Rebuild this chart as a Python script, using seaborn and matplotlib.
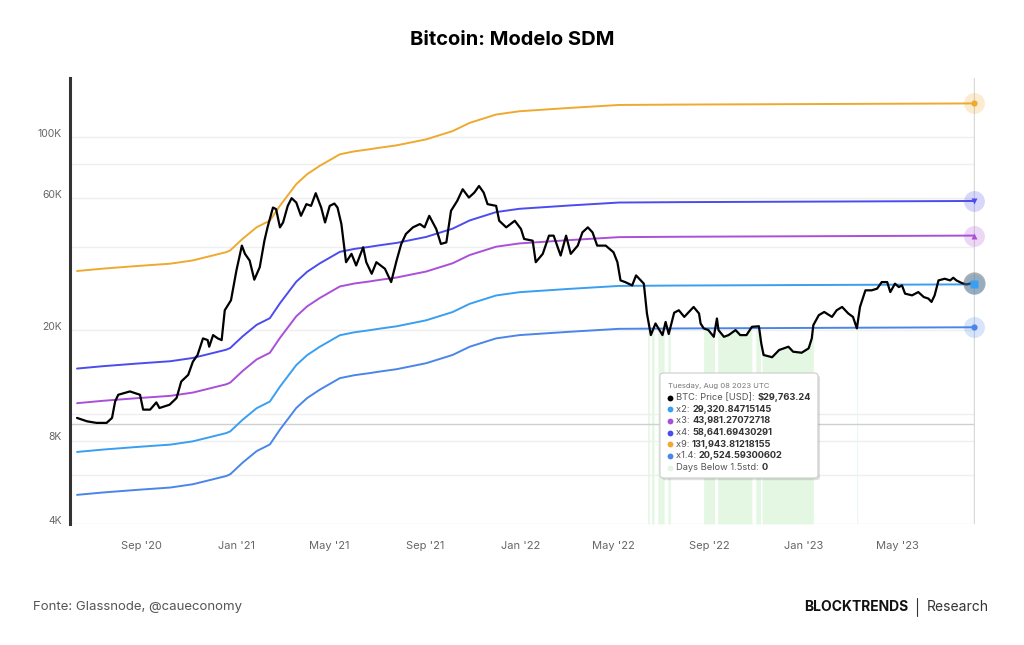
import numpy as np
import pandas as pd
import matplotlib
matplotlib.use('Agg')
import matplotlib.pyplot as plt
import matplotlib.dates as mdates
from matplotlib.ticker import FixedLocator, FixedFormatter, NullLocator
from matplotlib.transforms import ScaledTranslation
from matplotlib.patches import FancyBboxPatch
from matplotlib.lines import Line2D
from matplotlib.text import Annotation
import seaborn as sns

# SDM base curve (the x1.4 line divided by 1.4)
base_dates = ['2020-06-10', '2020-07-14', '2020-08-26', '2020-10-08', '2020-11-06', '2020-12-02',
              '2020-12-19', '2020-12-24', '2021-01-09', '2021-01-27', '2021-02-13', '2021-02-26',
              '2021-03-19', '2021-04-02', '2021-04-18', '2021-05-14', '2021-06-02', '2021-06-21',
              '2021-07-04', '2021-07-26', '2021-09-02', '2021-10-06', '2021-10-28', '2021-12-01',
              '2021-12-31', '2022-03-05', '2022-05-08', '2022-07-24', '2023-08-08']
base_values = [3640, 3714, 3794, 3869, 3976, 4144,
               4259, 4319, 4758, 5236, 5534, 6265,
               7496, 8141, 8719, 9604, 9846, 10011,
               10142, 10345, 10873, 11645, 12471, 13366,
               13736, 14118, 14471, 14518, 14660]

series_names = ['x2', 'x3', 'x4', 'x9', 'x1.4']
multipliers = [2, 3, 4, 9, 1.4]
series_colors = ['#3a9ff0', '#aa4fd8', '#4c4cee', '#eeaa2e', '#4a86e8']

# BTC price
price_dates = [
    '2020-06-10', '2020-06-23', '2020-07-05', '2020-07-18', '2020-07-25', '2020-07-29', '2020-08-02',
    '2020-08-17', '2020-08-30', '2020-09-03', '2020-09-12', '2020-09-20', '2020-09-24', '2020-10-07',
    '2020-10-16', '2020-10-22', '2020-10-31', '2020-11-06', '2020-11-12', '2020-11-19', '2020-11-25',
    '2020-11-27', '2020-12-02', '2020-12-08', '2020-12-13', '2020-12-17', '2020-12-25', '2021-01-01',
    '2021-01-08', '2021-01-12', '2021-01-18', '2021-01-24', '2021-01-31', '2021-02-06', '2021-02-10',
    '2021-02-17', '2021-02-21', '2021-02-26', '2021-03-02', '2021-03-08', '2021-03-13', '2021-03-19',
    '2021-03-25', '2021-04-01', '2021-04-07', '2021-04-13', '2021-04-20', '2021-04-25', '2021-05-01',
    '2021-05-07', '2021-05-11', '2021-05-16', '2021-05-22', '2021-05-29', '2021-06-04', '2021-06-13',
    '2021-06-17', '2021-06-24', '2021-06-30', '2021-07-11', '2021-07-19', '2021-07-26', '2021-08-01',
    '2021-08-07', '2021-08-16', '2021-08-25', '2021-08-31', '2021-09-06', '2021-09-15', '2021-09-21',
    '2021-09-28', '2021-10-04', '2021-10-12', '2021-10-19', '2021-10-27', '2021-11-03', '2021-11-09',
    '2021-11-15', '2021-11-20', '2021-12-01', '2021-12-05', '2021-12-14', '2021-12-25', '2022-01-02',
    '2022-01-06', '2022-01-17', '2022-01-21', '2022-01-30', '2022-02-07', '2022-02-13', '2022-02-22',
    '2022-03-01', '2022-03-07', '2022-03-16', '2022-03-22', '2022-03-29', '2022-04-04', '2022-04-10',
    '2022-04-21', '2022-05-01', '2022-05-06', '2022-05-10', '2022-05-16', '2022-05-25', '2022-05-30',
    '2022-06-05', '2022-06-09', '2022-06-13', '2022-06-18', '2022-06-24', '2022-07-03', '2022-07-07',
    '2022-07-11', '2022-07-18', '2022-07-24', '2022-07-31', '2022-08-06', '2022-08-12', '2022-08-19',
    '2022-08-21', '2022-08-25', '2022-08-31', '2022-09-07', '2022-09-11', '2022-09-13', '2022-09-20',
    '2022-09-26', '2022-10-05', '2022-10-11', '2022-10-19', '2022-10-26', '2022-11-04', '2022-11-07',
    '2022-11-10', '2022-11-21', '2022-11-30', '2022-12-12', '2022-12-18', '2022-12-29', '2023-01-07',
    '2023-01-11', '2023-01-13', '2023-01-20', '2023-01-27', '2023-02-06', '2023-02-12', '2023-02-19',
    '2023-02-27', '2023-03-05', '2023-03-10', '2023-03-14', '2023-03-21', '2023-03-29', '2023-04-05',
    '2023-04-11', '2023-04-18', '2023-04-22', '2023-04-28', '2023-05-03', '2023-05-07', '2023-05-11',
    '2023-05-20', '2023-05-28', '2023-06-04', '2023-06-10', '2023-06-14', '2023-06-18', '2023-06-23',
    '2023-07-01', '2023-07-08', '2023-07-12', '2023-07-16', '2023-07-23', '2023-07-29', '2023-08-08']
price_values = [
    9660, 9390, 9270, 9270, 9660, 11080, 11710,
    12040, 11710, 10350, 10350, 10990, 10490, 10780,
    11400, 13070, 13820, 15420, 16300, 18710, 18450,
    17460, 19230, 18710, 18450, 23640, 25690, 32910,
    40460, 37780, 35740, 30480, 33820, 42150, 47090,
    55530, 54800, 47090, 49050, 56310, 60010, 57870,
    51840, 57110, 56310, 62550, 55530, 49050, 56310,
    57390, 55530, 48400, 35250, 37780, 34300, 39900,
    35250, 32020, 35250, 33380, 29880, 35740, 41030,
    44570, 47090, 48400, 47090, 51840, 46450, 41030,
    41570, 54040, 58690, 64650, 60330, 62880, 66430,
    62880, 57110, 56310, 49740, 47090, 49740, 46450,
    42770, 42150, 35250, 37780, 43950, 43950, 37250,
    43950, 37780, 40460, 45170, 47090, 45170, 40460,
    40460, 38280, 35250, 30300, 29880, 29070, 31580,
    30300, 29490, 23010, 19230, 21180, 19230, 21460,
    19400, 23160, 23640, 22370, 23310, 24300, 23010,
    21180, 20330, 20050, 18960, 22080, 20050, 18960,
    19230, 20050, 19230, 19230, 20600, 20700, 17960,
    16300, 16000, 16990, 17460, 16750, 16610, 17230,
    18710, 20890, 22690, 23310, 22370, 23640, 24300,
    23010, 22370, 20330, 24300, 27900, 27900, 28290,
    29880, 29880, 27500, 29490, 28670, 29070, 27140,
    26760, 27500, 26390, 26050, 25330, 26760, 30300,
    30720, 30300, 30980, 30300, 29630, 29310, 29763.24]

# days below 1.5std (green columns)
green_start = ['2022-06-14', '2022-06-19', '2022-06-27', '2022-07-10', '2022-08-25', '2022-09-12',
               '2022-10-31', '2022-11-08', '2023-03-10']
green_end = ['2022-06-16', '2022-06-22', '2022-07-05', '2022-07-13', '2022-09-08', '2022-10-26',
             '2022-11-06', '2023-01-13', '2023-03-11']

y_ticks = [4000, 6000, 8000, 10000, 20000, 40000, 60000, 80000, 100000]
y_labels = ['4K', '', '8K', '', '20K', '', '60K', '', '100K']
crosshair_y = 9150

tt_date = 'Tuesday, Aug 08 2023 UTC'
tt_labels = ['BTC: Price [USD]: ', 'x2: ', 'x3: ', 'x4: ', 'x9: ', 'x1.4: ', 'Days Below 1.5std: ']
tt_values = ['$29,763.24', '29,320.84715145', '43,981.27072718', '58,641.69430291',
             '131,943.81218155', '20,524.59300602', '0']
tt_colors = ['#000000'] + series_colors + ['#e2f6e2']

sns.set_style('white')
plt.rcParams['font.family'] = ['Inter', 'DejaVu Sans']

fig = plt.figure(figsize=(10.24, 6.45), dpi=100)
ax = fig.add_axes([0.0684, 0.1876, 0.8838, 0.6915])

base_df = pd.DataFrame({'date': pd.to_datetime(base_dates), 'base': base_values})
price_df = pd.DataFrame({'date': pd.to_datetime(price_dates), 'price': price_values})

for name, m, col in zip(series_names, multipliers, series_colors):
    sns.lineplot(x=base_df['date'], y=base_df['base'] * m, color=col, lw=1.4,
                 estimator=None, ax=ax, zorder=3)

sns.lineplot(data=price_df, x='date', y='price', color='black', lw=1.6,
             estimator=None, ax=ax, zorder=4)

ax.set_yscale('log')
y_min, y_max = 4000, 163000

# green columns up to the price line
pnum = mdates.date2num(price_df['date'])
logp = np.log(price_df['price'].values)
for s, e in zip(green_start, green_end):
    xs = np.linspace(mdates.date2num(pd.Timestamp(s)), mdates.date2num(pd.Timestamp(e)), 15)
    top = np.exp(np.interp(xs, pnum, logp))
    ax.fill_between(mdates.num2date(xs), y_min, top, color='#e3f7e3', lw=0, zorder=1)

# crosshairs
ax.axhline(crosshair_y, color='#cfcfcf', lw=1, zorder=2)
end_date = pd.Timestamp('2023-08-08')
ax.axvline(end_date, color='#d9d9d9', lw=1, zorder=2)

# hover markers at the last date
last_base = base_df['base'].iloc[-1]
marker_syms = ['s', '^', 'v', 'o', 'o']
ax.plot([end_date], [price_df['price'].iloc[-1]], 'o', ms=16, color='#555555', alpha=0.45,
        mec='none', clip_on=False, zorder=5)
for m, col, sym in zip(multipliers, series_colors, marker_syms):
    ax.plot([end_date], [last_base * m], 'o', ms=15, color=col, alpha=0.22, mec='none',
            clip_on=False, zorder=5)
    ax.plot([end_date], [last_base * m], sym, ms=4.5 if sym != 's' else 6, color=col,
            mec='none', clip_on=False, zorder=6)

ax.set_ylim(y_min, y_max)
ax.set_xlim(pd.Timestamp('2020-06-01'), pd.Timestamp('2023-08-09'))

ax.yaxis.set_major_locator(FixedLocator(y_ticks))
ax.yaxis.set_major_formatter(FixedFormatter(y_labels))
ax.yaxis.set_minor_locator(NullLocator())
ax.yaxis.grid(True, color='#efefef', lw=1, zorder=0)
ax.xaxis.grid(False)

ax.xaxis.set_major_locator(mdates.MonthLocator(bymonth=[1, 5, 9]))
ax.xaxis.set_major_formatter(mdates.DateFormatter("%b '%y"))

ax.set_xlabel('')
ax.set_ylabel('')
for side in ['top', 'right', 'bottom']:
    ax.spines[side].set_visible(False)
ax.spines['left'].set_color('#333333')
ax.spines['left'].set_linewidth(2.2)

ax.tick_params(axis='y', length=0, pad=6, labelsize=7.5, labelcolor='#666666')
ax.tick_params(axis='x', length=4, width=0.8, color='#cccccc', pad=8,
               labelsize=8, labelcolor='#666666')
for lab in ax.get_yticklabels():
    lab.set_transform(lab.get_transform() + ScaledTranslation(0, 3 / 72, fig.dpi_scale_trans))

# tooltip
shadow = FancyBboxPatch((0.6465, 0.2555), 0.1543, 0.1628, boxstyle='round,pad=0,rounding_size=0.004',
                        transform=fig.transFigure, fc='#000000', ec='none', alpha=0.12)
box = FancyBboxPatch((0.6445, 0.2589), 0.1543, 0.1628, boxstyle='round,pad=0,rounding_size=0.004',
                     transform=fig.transFigure, fc='white', ec='#cccccc', lw=0.8)
fig.add_artist(shadow)
fig.add_artist(box)

fig.text(0.6525, 1 - 386 / 645, tt_date, fontsize=5.5, color='#777777', va='center')
for i, (lab, val, col) in enumerate(zip(tt_labels, tt_values, tt_colors)):
    yy = 1 - (397.5 + 11.7 * i) / 645
    fig.add_artist(Line2D([670 / 1024], [yy], marker='o', ms=4.2, color=col, mec='none',
                          transform=fig.transFigure))
    t = fig.text(676 / 1024, yy, lab, fontsize=6.7, color='#555555', va='center')
    fig.add_artist(Annotation(val, xy=(1, 0), xycoords=t, va='bottom', ha='left',
                              fontsize=6.7, fontweight='bold', color='#333333'))

# title and footer
fig.text(0.5, 1 - 40 / 645, 'Bitcoin: Modelo SDM', ha='center', va='center',
         fontsize=14.5, fontweight='bold', color='black')
fig.text(33 / 1024, 1 - 607 / 645, 'Fonte: Glassnode, @caueconomy', ha='left', va='center',
         fontsize=9.5, color='#555555')
fig.text(908 / 1024, 1 - 607 / 645, 'BLOCKTRENDS', ha='right', va='center',
         fontsize=10, fontweight='bold', color='#111111')
fig.add_artist(Line2D([917 / 1024, 917 / 1024], [1 - 598 / 645, 1 - 616 / 645],
                      color='#333333', lw=0.8, transform=fig.transFigure))
fig.text(927 / 1024, 1 - 607 / 645, 'Research', ha='left', va='center',
         fontsize=10, color='#333333')

fig.savefig('out.png', dpi=100, facecolor='white')
